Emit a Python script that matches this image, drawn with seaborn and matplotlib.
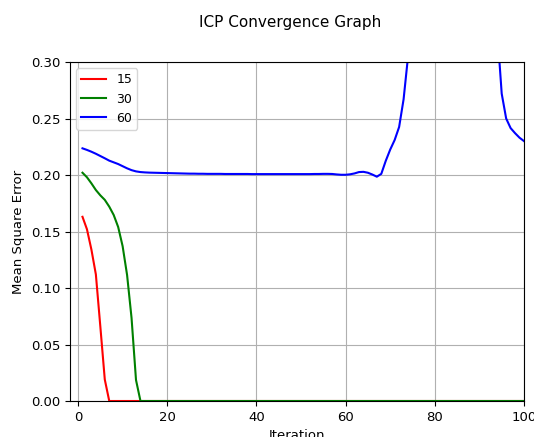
import numpy as np
import pandas as pd
import matplotlib
matplotlib.use("Agg")
import matplotlib.pyplot as plt
import seaborn as sns

iterations = list(range(1, 101))

mse_15 = [0.163, 0.152, 0.134, 0.112, 0.066, 0.019] + [0.0] * 94

mse_30 = [0.202, 0.198, 0.1926, 0.1867, 0.182, 0.178, 0.172, 0.1646, 0.154,
          0.137, 0.1115, 0.0735, 0.0186] + [0.0] * 87

mse_60 = [0.2236, 0.2222, 0.2206, 0.2188, 0.2168, 0.2148, 0.2127, 0.2112, 0.2097,
          0.2078, 0.2059, 0.2043, 0.2032, 0.2026, 0.2023, 0.2021, 0.2020, 0.2019,
          0.2018, 0.2017, 0.2016, 0.2015, 0.2014, 0.2013, 0.2012, 0.2012, 0.2011,
          0.2011, 0.2010, 0.2010, 0.2010, 0.2010, 0.2009, 0.2009, 0.2009, 0.2009,
          0.2009, 0.2009, 0.2008, 0.2008, 0.2008, 0.2008, 0.2008, 0.2008, 0.2008,
          0.2008, 0.2008, 0.2008, 0.2008, 0.2008, 0.2008, 0.2008, 0.2009, 0.2009,
          0.2010, 0.2010, 0.2009, 0.2005, 0.2002, 0.2002, 0.2006, 0.2014, 0.2026,
          0.2028, 0.2020, 0.2004, 0.1985, 0.2010, 0.2125, 0.2225, 0.2310, 0.2425,
          0.2670, 0.3050,
          0.35, 0.40, 0.45, 0.48, 0.50, 0.52, 0.53, 0.54, 0.55, 0.55, 0.54, 0.53,
          0.51, 0.49, 0.46, 0.43, 0.40, 0.37, 0.35,
          0.328, 0.272, 0.250, 0.2415, 0.237, 0.233, 0.230]

series_names = ["15", "30", "60"]
series_colors = ["red", "green", "blue"]

df = pd.DataFrame({
    "Iteration": iterations * 3,
    "MSE": mse_15 + mse_30 + mse_60,
    "run": [series_names[0]] * 100 + [series_names[1]] * 100 + [series_names[2]] * 100,
})

fig = plt.figure(figsize=(5.34, 4.37), dpi=100)
ax = fig.add_axes([70 / 534, 36 / 437, 454 / 534, 339 / 437])

sns.lineplot(data=df, x="Iteration", y="MSE", hue="run", hue_order=series_names,
             palette=series_colors, linewidth=1.5, ax=ax)

ax.set_xlim(-1.8, 100)
ax.set_ylim(0, 0.30)
ax.set_xticks([0, 20, 40, 60, 80, 100])
ax.set_yticks([0.0, 0.05, 0.10, 0.15, 0.20, 0.25, 0.30])
ax.yaxis.set_major_formatter(matplotlib.ticker.FormatStrFormatter("%.2f"))
ax.tick_params(labelsize=9.5)
ax.grid(True, color="#b0b0b0", linewidth=0.8)
ax.set_axisbelow(True)
ax.set_xlabel("Iteration", fontsize=9.5)
ax.set_ylabel("Mean Square Error", fontsize=9.5)
ax.legend(loc="upper left", title=None, fontsize=9)

fig.text(290 / 534, 1 - 23 / 437, "ICP Convergence Graph", ha="center", va="center", fontsize=11)

fig.savefig("out.png", dpi=100)
